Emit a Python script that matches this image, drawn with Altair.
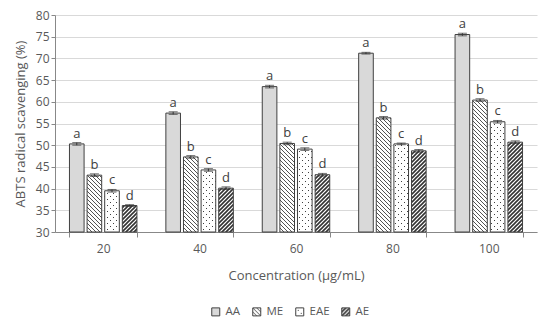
import altair as alt
import pandas as pd
import jinja2

concentrations = ["20", "40", "60", "80", "100"]
series = ["AA", "ME", "EAE", "AE"]
values = {
    "AA":  [50.3, 57.4, 63.5, 71.2, 75.5],
    "ME":  [43.1, 47.3, 50.4, 56.3, 60.4],
    "EAE": [39.5, 44.3, 49.1, 50.3, 55.4],
    "AE":  [36.1, 40.1, 43.2, 48.7, 50.7],
}
errors = {
    "AA":  [0.3, 0.3, 0.3, 0.2, 0.3],
    "ME":  [0.3, 0.3, 0.3, 0.3, 0.3],
    "EAE": [0.3, 0.3, 0.3, 0.2, 0.3],
    "AE":  [0.2, 0.3, 0.3, 0.3, 0.3],
}
letters = {"AA": "a", "ME": "b", "EAE": "c", "AE": "d"}
y_ticks = [30, 35, 40, 45, 50, 55, 60, 65, 70, 75, 80]

rows = []
for s in series:
    for i, c in enumerate(concentrations):
        v = values[s][i]
        e = errors[s][i]
        rows.append({"conc": c, "series": s, "value": v, "lo": v - e, "hi": v + e, "letter": letters[s]})
df = pd.DataFrame(rows)

fills = ["#d9d9d9", "url(#pME)", "url(#pEAE)", "url(#pAE)"]
FONT = "Open Sans"
GRAY = "#595959"
DARK = "#404040"
YTITLE = "ABTS radical scavenging (%)"

yscale = alt.Scale(domain=[30, 80], zero=False, nice=False)
yaxis = alt.Axis(values=y_ticks, tickSize=4, domainColor="#888888",
                 tickColor="#888888", gridColor="#d9d9d9", titlePadding=8)

def Y(field):
    return alt.Y(field, type="quantitative", scale=yscale, title=YTITLE, axis=yaxis)

x = alt.X("conc:N", sort=concentrations, title="Concentration (µg/mL)",
          scale=alt.Scale(paddingInner=0.3, paddingOuter=0.15),
          axis=alt.Axis(labelAngle=0, tickBand="extent", domainColor="#888888", tickColor="#888888",
                        tickSize=5, labelPadding=6, titlePadding=15))
xo = alt.XOffset("series:N", sort=series, scale=alt.Scale(paddingInner=0.17))

base = alt.Chart(df).encode(x=x, xOffset=xo)

bars = base.mark_bar(stroke=DARK, strokeWidth=1).encode(
    y=Y("value"),
    y2=alt.datum(30),
    fill=alt.Fill("series:N", sort=series, title=None,
                  scale=alt.Scale(domain=series, range=fills),
                  legend=alt.Legend(orient="none", direction="horizontal", symbolType="square",
                                    symbolSize=64, symbolStrokeColor=DARK, symbolStrokeWidth=1,
                                    labelFontSize=11.5, labelColor=GRAY, labelFont=FONT,
                                    columnPadding=9, legendX=155, legendY=291)),
)

rule = base.mark_rule(color="#333333", strokeWidth=1).encode(y=Y("lo"), y2="hi:Q")
caps = base.mark_tick(color="#333333", thickness=1, size=9).encode(y=Y("hi"))
caps2 = base.mark_tick(color="#333333", thickness=1, size=9).encode(y=Y("lo"))

text = base.mark_text(baseline="bottom", dy=-2, fontSize=13, color=DARK, font=FONT).encode(
    y=Y("hi"), text="letter:N")

chart = alt.layer(bars, rule, caps, caps2, text).properties(
    width=482, height=217,
    padding={"left": 47, "top": 7, "right": 5, "bottom": 90},
    autosize=alt.AutoSizeParams(type="none"),
).configure_view(stroke=None).configure_axis(
    labelFont=FONT, titleFont=FONT, labelColor=GRAY, titleColor=GRAY,
    labelFontSize=12, titleFontSize=13, titleFontWeight="normal",
).configure_axisX(grid=False)

TEMPLATE = jinja2.Template("""<!DOCTYPE html>
<html>
<head>
  <style>
    #{{ output_div }}.vega-embed { width: 100%; display: flex; }
  </style>
  <script type="text/javascript" src="{{ base_url }}/vega@{{ vega_version }}"></script>
  <script type="text/javascript" src="{{ base_url }}/vega-lite@{{ vegalite_version }}"></script>
  <script type="text/javascript" src="{{ base_url }}/vega-embed@{{ vegaembed_version }}"></script>
</head>
<body>
  <svg width="0" height="0" style="position:absolute">
    <defs>
      <pattern id="pME" patternUnits="userSpaceOnUse" width="4" height="4">
        <rect width="4" height="4" fill="white"/>
        <path d="M-1,-1 L5,5 M-1,3 L1,5 M3,-1 L5,1" stroke="#404040" stroke-width="0.9"/>
      </pattern>
      <pattern id="pEAE" patternUnits="userSpaceOnUse" width="6" height="6">
        <rect width="6" height="6" fill="white"/>
        <rect x="1" y="1" width="1" height="1" fill="#404040"/>
        <rect x="4" y="4" width="1" height="1" fill="#404040"/>
      </pattern>
      <pattern id="pAE" patternUnits="userSpaceOnUse" width="4" height="4">
        <rect width="4" height="4" fill="white"/>
        <path d="M-1,5 L5,-1 M-1,1 L1,-1 M3,5 L5,3" stroke="#333333" stroke-width="1.6"/>
      </pattern>
    </defs>
  </svg>
  <div id="{{ output_div }}"></div>
  <script>
    (function(vegaEmbed) {
      var spec = {{ spec }};
      var embedOpt = {{ embed_options }};
      vegaEmbed("#{{ output_div }}", spec, embedOpt);
    })(vegaEmbed);
  </script>
</body>
</html>
""")

chart.save("out.html", embed_options={"renderer": "svg", "actions": False}, template=TEMPLATE)
